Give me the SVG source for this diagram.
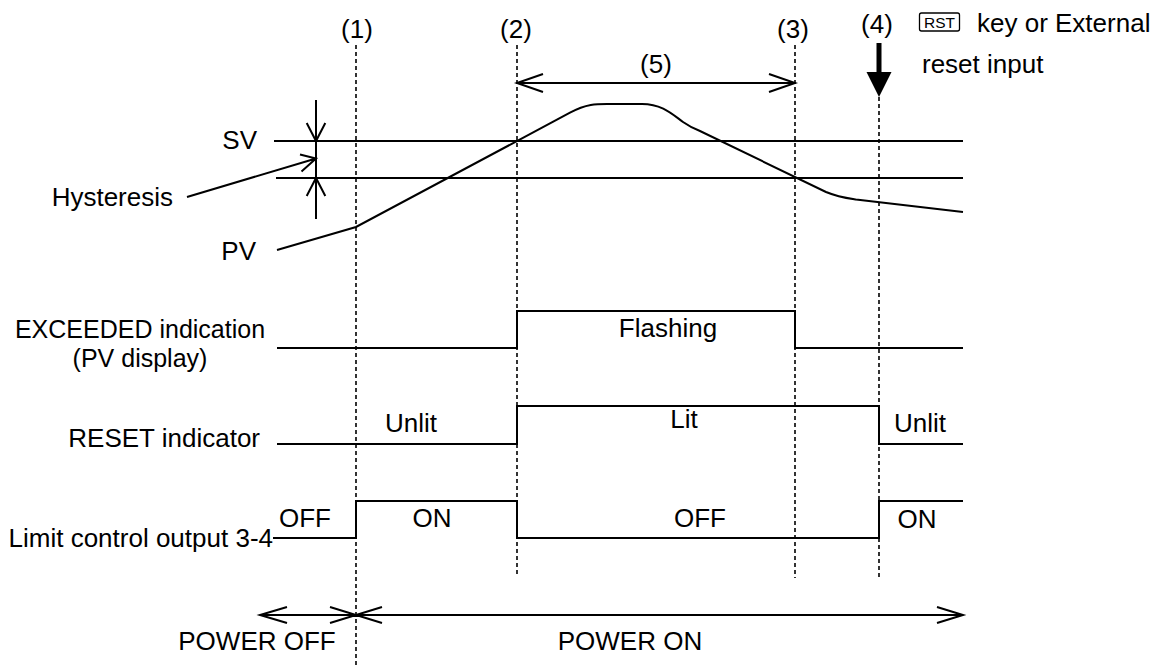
<svg xmlns="http://www.w3.org/2000/svg" width="1171" height="666" viewBox="0 0 1171 666">
<style>
text{font-family:"Liberation Sans",Arial,sans-serif;font-size:26px;fill:#000}
.s{fill:none;stroke:#000;stroke-width:2}
.d{fill:none;stroke:#000;stroke-width:1.6;stroke-dasharray:4,3}
.m{text-anchor:middle}
.e{text-anchor:end}
</style>
<rect width="1171" height="666" fill="#fff"/>
<g id="labels">
<text x="257" y="149" class="e">SV</text>
<text x="173" y="206" class="e">Hysteresis</text>
<text x="256" y="260" class="e">PV</text>
<text x="140" y="338" class="m" style="font-size:25px">EXCEEDED indication</text>
<text x="140" y="366.5" class="m" style="font-size:25px">(PV display)</text>
<text x="260" y="447" class="e">RESET indicator</text>
<text x="273" y="547" class="e">Limit control output 3-4</text>
</g>
<g id="markers">
<text x="357" y="38" class="m">(1)</text>
<text x="516" y="38" class="m">(2)</text>
<text x="793" y="38" class="m">(3)</text>
<text x="877" y="33" class="m">(4)</text>
<text x="656" y="73" class="m">(5)</text>
</g>
<g id="reset-key">
<rect x="919.5" y="13" width="40" height="18" rx="2" fill="none" stroke="#000" stroke-width="1.3"/>
<text x="924" y="28" style="font-size:15px" textLength="31" lengthAdjust="spacingAndGlyphs">RST</text>
<text x="977" y="32">key or External</text>
<text x="922" y="73">reset input</text>
</g>
<g id="connectors">
<line class="d" x1="356" y1="45" x2="356" y2="666"/>
<line class="d" x1="517" y1="45" x2="517" y2="577"/>
<line class="d" x1="795" y1="45" x2="795" y2="578"/>
<line class="d" x1="879" y1="97" x2="879" y2="578"/>
<line x1="879" y1="43" x2="879" y2="74" stroke="#000" stroke-width="5"/>
<polygon points="866.5,72 891.5,72 879,97" fill="#000"/>
<path class="s" d="M517,83 H795 M543,74 L517,83 L543,92 M769,74 L795,83 L769,92"/>
<path class="s" d="M274,141 H963 M276,178 H963"/>
<path class="s" d="M316,100 V219 M306.7,123 L316,141 L325.3,123 M306.7,196 L316,178 L325.3,196"/>
<path class="s" d="M187,197 L316,158.5 M300,154.5 L316,158.5 L301.5,171.5"/>
<path class="s" d="M277,250 L356,227 L570,112.7 C588,103 598,104 612,104 L642,104 C662,104 672,114 683,122 Q690,127 700,131 L826,192 C838,197 846,198 856,199.5 L963,212"/>
<path class="s" d="M277,348 H517 V311 H795 V348 H963"/>
<path class="s" d="M277,444 H517 V406 H879 V444 H963"/>
<path class="s" d="M273,538 H356 V501 H517 V538 H879 V501 H963"/>
<path class="s" d="M260,615 H963 M287,607 L260,615 L287,623 M330,607 L356,615 L330,623 M382,607 L356,615 L382,623 M937,607 L963,615 L937,623"/>
</g>
<g id="states">
<text x="668" y="337" class="m">Flashing</text>
<text x="684" y="428" class="m">Lit</text>
<text x="411" y="432" class="m">Unlit</text>
<text x="920" y="432" class="m">Unlit</text>
<text x="305" y="527" class="m">OFF</text>
<text x="432" y="527" class="m">ON</text>
<text x="700" y="527" class="m">OFF</text>
<text x="917" y="528" class="m">ON</text>
<text x="257" y="650" class="m">POWER OFF</text>
<text x="630" y="650" class="m">POWER ON</text>
</g>
</svg>
